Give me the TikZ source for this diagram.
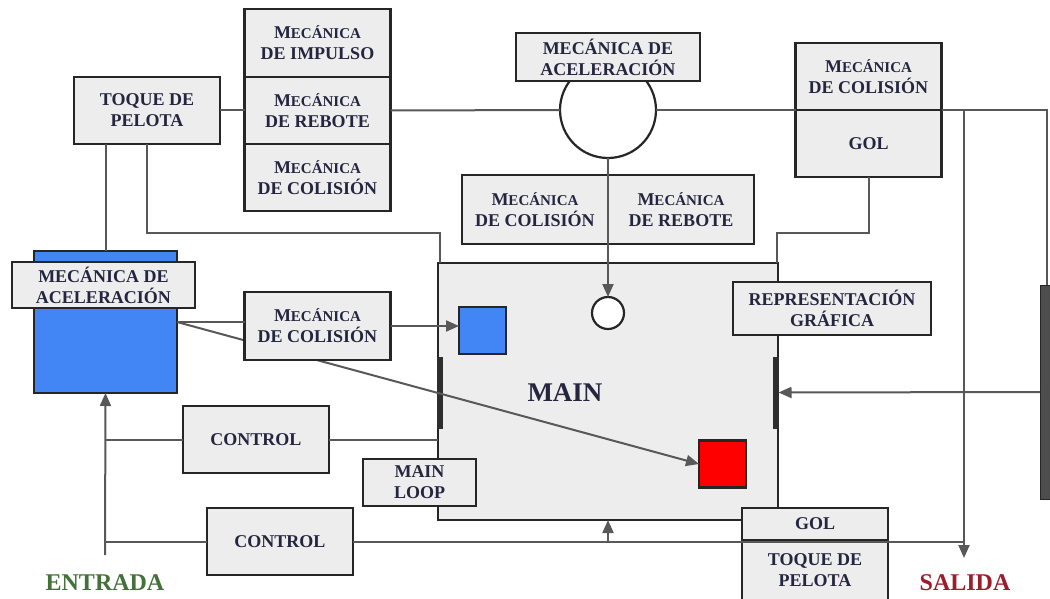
\documentclass[tikz,border=0pt]{standalone}
\usepackage{fontspec}
\setmainfont{Liberation Serif}
\usetikzlibrary{arrows.meta,positioning,shapes.geometric}
\usepackage{xcolor}
\definecolor{ink}{HTML}{25253F}
\definecolor{paper}{HTML}{EDEDED}
\definecolor{edge}{HTML}{262626}
\definecolor{wire}{HTML}{585858}
\definecolor{pblue}{HTML}{4285F4}
\definecolor{pred}{HTML}{FF0000}
\definecolor{post}{HTML}{2E2E2E}
\definecolor{ingreen}{HTML}{44703A}
\definecolor{outred}{HTML}{9B1C2B}
\newcommand{\mecanica}{M{\fontsize{7.5}{9}\selectfont ECÁNICA}}
\tikzset{
  base/.style={font=\fontsize{9}{10.5}\selectfont\bfseries,text=ink,align=center,draw=edge,line width=1.4pt,fill=paper,inner sep=0pt,outer sep=0pt},
  module/.style={base,minimum width=73pt,minimum height=33.5pt},
  ball/.style={circle,draw=edge,line width=1.1pt,fill=white,inner sep=0pt,outer sep=0pt},
  square/.style={rectangle,draw=edge,line width=1.1pt,minimum size=23.5pt,inner sep=0pt,outer sep=0pt},
  paddle/.style={rectangle,draw=post,fill=post,minimum width=2.5pt,inner sep=0pt,outer sep=0pt},
  title/.style={font=\fontsize{12}{14}\selectfont\bfseries},
  wire/.style={draw=wire,line width=1pt},
  flow/.style={wire,-{Triangle[length=6.5pt,width=5.5pt]}}
}
\begin{document}
\begin{tikzpicture}[x=0.5pt,y=-0.5pt]
\useasboundingbox (0,0) rectangle (1050,599);
\node[base,minimum width=170pt,minimum height=128.5pt] (main) at (608,391.5) {};
\node[font=\fontsize{13.5}{15}\selectfont\bfseries,text=ink] (mainlbl) at (565,393) {MAIN};
\node[paddle,minimum height=35.5pt] (padL) at (440,392.5) {};
\node[paddle,minimum height=35.5pt] (padR) at (776,392.5) {};
\node[square,fill=pblue] (blueSq) at (482.5,330.5) {};
\node[square,fill=pred] (redSq) at (722.5,464) {};
\node[ball,minimum size=16pt] (ballS) at (608,313) {};
\node[base,fill=pblue,minimum width=71.5pt,minimum height=71pt] (player) at (105.5,322) {};
\node[base,minimum width=91.5pt,minimum height=23pt] (acelLeft) at (103.5,285) {MECÁNICA DE\\ACELERACIÓN};
\draw[flow] (player.east) -- (redSq.west);
\node[module,minimum height=34pt] (colLeft) at (317.5,326) {\mecanica\\DE COLISIÓN};

\node[module] (toque) at (147,110.5) {TOQUE DE\\PELOTA};
\node[module,minimum height=34pt] (impulso) at (317.5,43) {\mecanica\\DE IMPULSO};
\node[module,below=0pt of impulso] (rebote) {\mecanica\\DE REBOTE};
\node[module,below=0pt of rebote] (colTop) {\mecanica\\DE COLISIÓN};
\node[ball,minimum size=48pt] (hub) at (608,110) {};
\node[base,minimum width=92pt,minimum height=24pt] (acelTop) at (608,57) {MECÁNICA DE\\ACELERACIÓN};
\node[module,minimum height=34.5pt] (colMid) at (535,209.5) {\mecanica\\DE COLISIÓN};
\node[module,minimum height=34.5pt,right=0pt of colMid] (rebMid) {\mecanica\\DE REBOTE};
\node[module] (colRight) at (868.5,76.5) {\mecanica\\DE COLISIÓN};
\node[module,below=0pt of colRight] (golTop) {GOL};
\node[base,minimum width=99pt,minimum height=26.5pt] (repr) at (832,308.5) {REPRESENTACIÓN\\GRÁFICA};
\node[module] (ctrlA) at (256,439.5) {CONTROL};
\node[module] (ctrlB) at (280,541.5) {CONTROL};
\node[base,minimum width=56.5pt,minimum height=23.5pt] (loop) at (419.5,482.5) {MAIN\\LOOP};
\node[base,minimum width=73pt,minimum height=16pt] (golBot) at (815,524) {GOL};
\node[base,minimum width=73pt,minimum height=30pt,below=0pt of golBot] (toqueBot) {TOQUE DE\\PELOTA};
\node[paddle,draw=edge,fill=post!85,minimum width=6pt,minimum height=107pt] (rbar) at (1046,392) {};
\node[title,text=ingreen] (entrada) at (105,583) {ENTRADA};
\node[title,text=outred] (salida) at (965,583) {SALIDA};

\coordinate (inTop) at (105,555);
\coordinate (outTop) at (964,110);
\coordinate (outEnd) at (964,558);
\coordinate (postTop) at (1047,110);
\coordinate (tl) at (440,233);
\coordinate (tr) at (777,233);

\draw[wire] (toque.east) -- (toque.east -| rebote.west);
\draw[wire] (rebote.east) -- (hub.west);
\draw[wire] (hub.east) -- (colRight.south west);
\draw[wire] (colRight.south east) -- (postTop) -- (postTop |- rbar.north);
\draw[flow] (outTop) -- (outEnd);
\draw[wire] (toque.south -| player.north) -- (player.north);
\draw[wire] (toque.south) |- (tl) -- (tl |- main.north);
\draw[wire] (golTop.south) |- (tr) -- (tr |- main.north);
\draw[flow] (hub.south) -- (ballS.north);
\draw[wire] (player.east) -- (player.east -| colLeft.west);
\draw[flow] (colLeft.east) -- (colLeft.east -| blueSq.west);
\draw[wire] (ctrlA.east) -- (ctrlA.east -| main.west);
\draw[wire] (ctrlA.west) -- (ctrlA.west -| inTop);
\draw[wire] (ctrlB.west) -- (ctrlB.west -| inTop);
\draw[wire] (ctrlB.east) -- (ctrlB.east -| outTop);
\draw[flow] (ctrlB.east -| main.south) -- (main.south);
\draw[flow] (inTop) -- (player.south);
\draw[flow] (rbar.west) -- (padR.east);
\end{tikzpicture}
\end{document}
